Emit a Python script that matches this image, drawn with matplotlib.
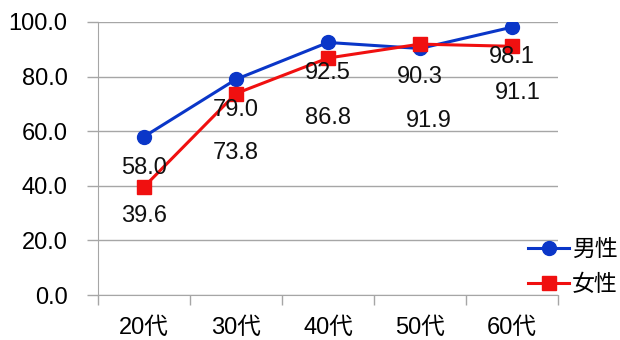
import numpy as np
import matplotlib

matplotlib.use("Agg")

import matplotlib.pyplot as plt  # noqa: E402
from matplotlib.ticker import FixedLocator  # noqa: E402

plt.rcParams["font.family"] = ["Liberation Sans", "Noto Sans CJK JP", "DejaVu Sans"]

# data
ages = ["20代", "30代", "40代", "50代", "60代"]
male = [58.0, 79.0, 92.5, 90.3, 98.1]
female = [39.6, 73.8, 86.8, 91.9, 91.1]
series_names = ["男性", "女性"]
y_ticks = [0, 20, 40, 60, 80, 100]

# label offsets (pixels, below each point) as placed in the original
male_off = [(0, -31), (0, -31), (0, -31), (0, -29), (0, -30)]
female_off = [(0, -29), (0, -59), (0, -60), (9, -77), (6, -47)]

BLUE = "#0A36C8"
RED = "#F01010"
GRID = "#A6A6A6"
FS = 17

fig = plt.figure(figsize=(6.2, 3.4), dpi=100)
ax = fig.add_axes([98 / 620, 1 - 295 / 340, (558 - 98) / 620, (295 - 22) / 340])

x = np.arange(len(ages))
l1, = ax.plot(x, male, color=BLUE, lw=2.2, marker="o", ms=10, zorder=4)
l2, = ax.plot(x, female, color=RED, lw=2.2, marker="s", ms=9.5, zorder=5)

for xi, v, off in zip(x, male, male_off):
    ax.annotate(f"{v:.1f}", (xi, v), xytext=off, textcoords="offset pixels",
                ha="center", va="center", fontsize=FS, color="#111111", zorder=6)
for xi, v, off in zip(x, female, female_off):
    ax.annotate(f"{v:.1f}", (xi, v), xytext=off, textcoords="offset pixels",
                ha="center", va="center", fontsize=FS, color="#111111", zorder=6)

ax.set_xlim(-0.5, len(ages) - 0.5)
ax.set_ylim(0, 100)
ax.set_yticks(y_ticks)
ax.set_yticklabels([f"{t:.1f}" for t in y_ticks], fontsize=FS)
ax.yaxis.grid(True, color=GRID, lw=1.0)
ax.set_axisbelow(True)

ax.set_xticks(x)
ax.set_xticklabels(ages, fontsize=FS)
ax.xaxis.set_minor_locator(FixedLocator(np.arange(len(ages) + 1) - 0.5))
ax.tick_params(axis="x", which="major", length=0, pad=16)
ax.tick_params(axis="x", which="minor", length=7, color=GRID, width=1.0)
ax.tick_params(axis="y", length=8, color=GRID, width=1.0, pad=14)

for s in ["top", "right"]:
    ax.spines[s].set_visible(False)
ax.spines["left"].set_color(GRID)
ax.spines["bottom"].set_color(GRID)

fig.legend([l1, l2], series_names, loc="center left", bbox_to_anchor=(528 / 620, 1 - 267 / 340),
           frameon=False, fontsize=FS - 0.5, handlelength=1.8, handletextpad=0.12,
           labelspacing=0.5, borderpad=0, borderaxespad=0)

fig.savefig("out.png", dpi=100, facecolor="white")
